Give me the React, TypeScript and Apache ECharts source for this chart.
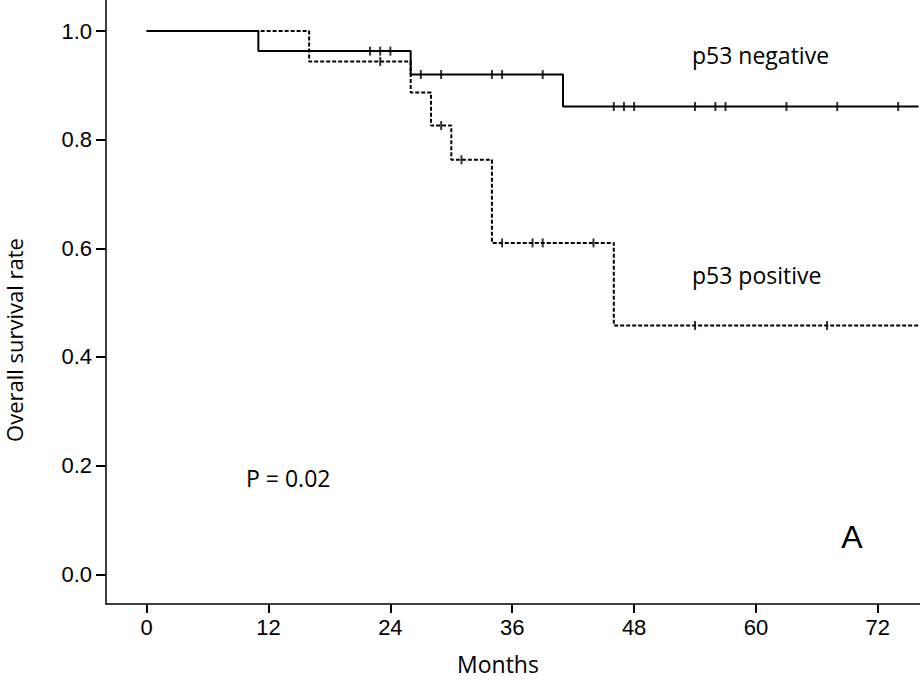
import React, { useEffect, useRef } from "react";
import * as echarts from "echarts";

// ---- data ----
const xTickValues = [0, 12, 24, 36, 48, 60, 72];
const yTickValues = [0, 0.2, 0.4, 0.6, 0.8, 1.0];

// p53 negative (solid) Kaplan-Meier steps
const negTimes = [0, 11, 26, 41, 76];
const negSurv = [1.0, 0.963, 0.92, 0.861, 0.861];
const negCensorTimes = [22, 23, 24, 27, 29, 34, 35, 39, 46, 47, 48, 54, 56, 57, 63, 68, 74];

// p53 positive (dashed) Kaplan-Meier steps
const posTimes = [0, 16, 26, 28, 30, 34, 46, 76];
const posSurv = [1.0, 0.944, 0.887, 0.826, 0.763, 0.61, 0.458, 0.458];
const posCensorTimes = [23, 29, 31, 35, 38, 39, 44, 54, 67];

const survAt = (times: number[], surv: number[], t: number) => {
  let v = surv[0];
  for (let i = 0; i < times.length; i++) if (times[i] <= t) v = surv[i];
  return v;
};

export default function App() {
  const ref = useRef<HTMLDivElement>(null);
  useEffect(() => {
    if (!ref.current) return;
    const chart = echarts.init(ref.current, undefined, { renderer: "svg" });
    const labelFont = "Liberation Sans";
    const textFont = "Open Sans";
    const axisLabelStyle = {
      color: "#000",
      fontSize: 22,
      fontFamily: labelFont,
    };
    chart.setOption({
      animation: false,
      backgroundColor: "#fff",
      textStyle: { fontSize: 22, fontFamily: labelFont, color: "#000" },
      grid: { left: 106, right: 0, top: 0, bottom: 75 },
      xAxis: {
        type: "value",
        min: -4,
        max: 76.15,
        splitLine: { show: false },
        axisLine: { show: true, onZero: false, lineStyle: { color: "#000", width: 1.5 } },
        axisTick: {
          show: true,
          length: 9,
          lineStyle: { color: "#000", width: 2 },
          customValues: xTickValues,
        },
        axisLabel: {
          ...axisLabelStyle,
          customValues: xTickValues,
          margin: 12,
        },
      },
      yAxis: {
        type: "value",
        min: -0.0547,
        max: 1.0571,
        splitLine: { show: false },
        axisLine: { show: true, onZero: false, lineStyle: { color: "#000", width: 1.5 } },
        axisTick: {
          show: true,
          length: 10,
          lineStyle: { color: "#000", width: 2 },
          customValues: yTickValues,
        },
        axisLabel: {
          ...axisLabelStyle,
          customValues: yTickValues,
          margin: 14,
          formatter: (v: number) => v.toFixed(1),
        },
      },
      series: [
        {
          name: "p53 negative",
          type: "line",
          step: "end",
          symbol: "none",
          data: negTimes.map((t, i) => [t, negSurv[i]]),
          lineStyle: { color: "#000", width: 2, type: "solid" },
          z: 3,
        },
        {
          name: "p53 positive",
          type: "line",
          step: "end",
          symbol: "none",
          data: posTimes.map((t, i) => [t, posSurv[i]]),
          lineStyle: { color: "#000", width: 2, type: [4, 2] },
          z: 2,
        },
        {
          name: "p53 negative censored",
          type: "scatter",
          symbol: "rect",
          symbolSize: [2, 9],
          itemStyle: { color: "#000" },
          data: negCensorTimes.map((t) => [t, survAt(negTimes, negSurv, t)]),
          z: 4,
        },
        {
          name: "p53 positive censored",
          type: "scatter",
          symbol: "rect",
          symbolSize: [2, 9],
          itemStyle: { color: "#000" },
          data: posCensorTimes.map((t) => [t, survAt(posTimes, posSurv, t)]),
          z: 4,
        },
      ],
      graphic: [
        {
          type: "text",
          x: 692,
          y: 55,
          style: {
            text: "p53 negative",
            fill: "#000",
            fontSize: 23,
            fontFamily: textFont,
            textAlign: "left",
            textVerticalAlign: "middle",
          },
        },
        {
          type: "text",
          x: 692,
          y: 275,
          style: {
            text: "p53 positive",
            fill: "#000",
            fontSize: 23,
            fontFamily: textFont,
            textAlign: "left",
            textVerticalAlign: "middle",
          },
        },
        {
          type: "text",
          x: 246,
          y: 478,
          style: {
            text: "P = 0.02",
            fill: "#000",
            fontSize: 23,
            fontFamily: textFont,
            textAlign: "left",
            textVerticalAlign: "middle",
          },
        },
        {
          type: "text",
          x: 852,
          y: 537,
          style: {
            text: "A",
            fill: "#000",
            fontSize: 32,
            fontFamily: labelFont,
            textAlign: "center",
            textVerticalAlign: "middle",
          },
        },
        {
          type: "text",
          x: 498,
          y: 664,
          style: {
            text: "Months",
            fill: "#000",
            fontSize: 23,
            fontFamily: textFont,
            textAlign: "center",
            textVerticalAlign: "middle",
          },
        },
        {
          type: "text",
          x: 14,
          y: 340,
          rotation: Math.PI / 2,
          style: {
            text: "Overall survival rate",
            fill: "#000",
            fontSize: 22,
            fontFamily: textFont,
            textAlign: "center",
            textVerticalAlign: "middle",
          },
        },
      ],
    });
    return () => chart.dispose();
  }, []);
  return (
    <div
      ref={ref}
      style={{ position: "fixed", left: 0, top: 0, width: 920, height: 679 }}
    />
  );
}
